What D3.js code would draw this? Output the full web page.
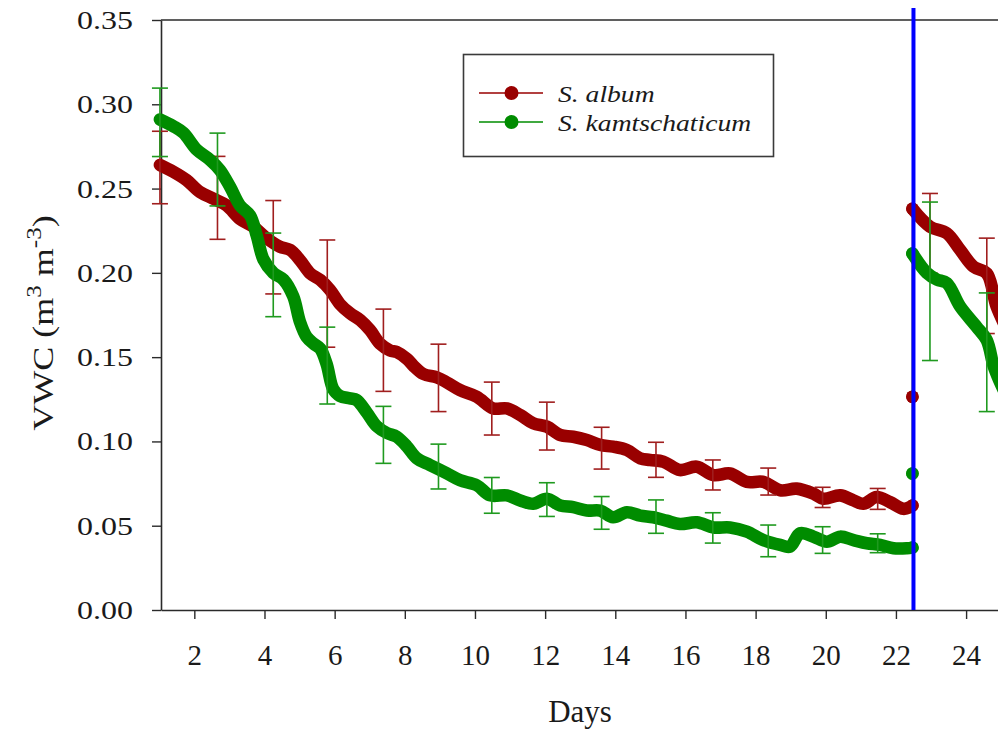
<!DOCTYPE html>
<html>
<head>
<meta charset="utf-8">
<script src="https://cdn.jsdelivr.net/npm/d3@7"></script>
<style>
  html, body { margin: 0; padding: 0; background: #fff; }
  svg { display: block; font-family: "Liberation Serif", "Times New Roman", serif; }
</style>
</head>
<body>
<svg id="chart" width="998" height="731"></svg>
<script>
// Volumetric water content traces (day, VWC). Repeated days mark the re-watering jump.
const albumDays = [1.02, 1.40, 1.78, 2.16, 2.54, 2.92, 3.30, 3.68, 4.06, 4.44, 4.73, 5.01, 5.30, 5.59, 5.87, 6.15, 6.44, 6.73, 7.01, 7.29, 7.58, 7.77, 8.06, 8.24, 8.53, 8.91, 9.20, 9.57, 10.05, 10.52, 10.91, 11.29, 11.66, 12.05, 12.43, 12.80, 13.19, 13.57, 13.94, 14.33, 14.71, 14.99, 15.37, 15.84, 16.32, 16.80, 17.27, 17.75, 18.22, 18.70, 19.17, 19.65, 19.93, 20.41, 20.79, 21.07, 21.45, 21.83, 22.21, 22.40, 22.47, 22.47, 22.47, 22.97, 23.45, 23.83, 24.21, 24.59, 24.87, 25.20];
const albumVWC = [0.264, 0.260, 0.255, 0.248, 0.244, 0.240, 0.232, 0.2274, 0.2205, 0.2155, 0.2136, 0.2076, 0.1997, 0.1958, 0.1898, 0.1815, 0.176, 0.172, 0.166, 0.158, 0.154, 0.153, 0.149, 0.145, 0.140, 0.138, 0.135, 0.1305, 0.1265, 0.1196, 0.1196, 0.1157, 0.1108, 0.1088, 0.1038, 0.1028, 0.1008, 0.0979, 0.0969, 0.0949, 0.090, 0.089, 0.088, 0.083, 0.085, 0.080, 0.081, 0.076, 0.076, 0.071, 0.072, 0.069, 0.066, 0.068, 0.065, 0.063, 0.067, 0.064, 0.060, 0.061, 0.062, 0.1265, 0.238, 0.2274, 0.2235, 0.2136, 0.2037, 0.1997, 0.180, 0.165];

const kamtDays = [1.02, 1.40, 1.69, 2.07, 2.45, 2.73, 3.02, 3.30, 3.59, 3.78, 3.97, 4.25, 4.54, 4.82, 5.01, 5.20, 5.40, 5.59, 5.77, 5.96, 6.15, 6.44, 6.63, 6.92, 7.20, 7.49, 7.77, 8.06, 8.34, 8.72, 9.20, 9.57, 10.05, 10.43, 10.91, 11.29, 11.66, 12.05, 12.43, 12.80, 13.19, 13.57, 13.94, 14.33, 14.71, 15.08, 15.46, 15.84, 16.32, 16.80, 17.27, 17.75, 18.22, 18.70, 18.98, 19.27, 19.65, 20.03, 20.41, 20.79, 21.17, 21.55, 21.93, 22.31, 22.47, 22.47, 22.47, 22.88, 23.17, 23.45, 23.83, 24.30, 24.59, 24.78, 24.95, 25.20];
const kamtVWC = [0.291, 0.287, 0.283, 0.273, 0.267, 0.261, 0.251, 0.240, 0.234, 0.222, 0.208, 0.200, 0.196, 0.186, 0.171, 0.162, 0.158, 0.155, 0.146, 0.131, 0.127, 0.1255, 0.1245, 0.117, 0.109, 0.105, 0.1028, 0.097, 0.090, 0.086, 0.081, 0.077, 0.074, 0.068, 0.068, 0.065, 0.063, 0.066, 0.062, 0.061, 0.059, 0.059, 0.055, 0.058, 0.056, 0.055, 0.053, 0.051, 0.052, 0.049, 0.049, 0.0465, 0.0415, 0.0386, 0.0376, 0.0455, 0.0435, 0.0405, 0.0435, 0.0415, 0.0396, 0.0386, 0.0366, 0.0366, 0.037, 0.081, 0.2115, 0.200, 0.196, 0.194, 0.180, 0.168, 0.160, 0.145, 0.136, 0.125];

// Mean ± error at the sampled days
const errDays  = [1.02, 2.66, 4.25, 5.79, 7.39, 8.96, 10.48, 12.05, 13.61, 15.16, 16.78, 18.36, 19.91, 21.48, 22.97, 24.59];
const albumMean = [0.2625, 0.2445, 0.2152, 0.1877, 0.1541, 0.1377, 0.1195, 0.1091, 0.0960, 0.0891, 0.0801, 0.0762, 0.0668, 0.0659, 0.2234, 0.1923];
const albumErr  = [0.0215, 0.0246, 0.0277, 0.0318, 0.0244, 0.0200, 0.0157, 0.0142, 0.0124, 0.0104, 0.0089, 0.0080, 0.0060, 0.0062, 0.0237, 0.0283];
const kamtMean  = [0.2893, 0.2613, 0.1988, 0.1450, 0.1039, 0.0851, 0.0680, 0.0655, 0.0576, 0.0554, 0.0487, 0.0410, 0.0415, 0.0396, 0.1950, 0.1529];
const kamtErr   = [0.0203, 0.0216, 0.0248, 0.0228, 0.0169, 0.0133, 0.0106, 0.0100, 0.0097, 0.0099, 0.0090, 0.0094, 0.0079, 0.0056, 0.0470, 0.0352];

const yTicks = [0.00, 0.05, 0.10, 0.15, 0.20, 0.25, 0.30, 0.35];
const xTicks = [2, 4, 6, 8, 10, 12, 14, 16, 18, 20, 22, 24];
const rewaterDay = 22.5;
const seriesNames = ["S. album", "S. kamtschaticum"];
const seriesColors = ["#990000", "#008c00"];
const barColors = ["#a01e1e", "#1f9a1f"];

const svg = d3.select("#chart");
const x = d3.scaleLinear().domain([1.05, 25.3]).range([161, 1011.7]);
const y = d3.scaleLinear().domain([0, 0.35]).range([610, 20]);
const axisColor = "#2a2a2a";

// Frame top line
svg.append("line")
  .attr("x1", x.range()[0]).attr("x2", 998)
  .attr("y1", y(0.35)).attr("y2", y(0.35))
  .attr("stroke", axisColor).attr("stroke-width", 1.6);

// Y axis
const yScaleX = 1.28;
const gy = svg.append("g").attr("transform", `translate(${x.range()[0]},0)`)
  .call(d3.axisLeft(y).tickValues(yTicks).tickFormat(d3.format(".2f")).tickSize(9).tickSizeOuter(0));
gy.select(".domain").attr("stroke", axisColor).attr("stroke-width", 1.6);
gy.selectAll(".tick line").attr("stroke", axisColor).attr("stroke-width", 1.4);
gy.selectAll(".tick text")
  .attr("font-family", "Liberation Serif, Times New Roman, serif")
  .attr("font-size", 25).attr("fill", "#1a1a1a")
  .attr("x", -28 / yScaleX).attr("dy", "0.34em")
  .attr("transform", `scale(${yScaleX},1)`);

// X axis
const gx = svg.append("g").attr("transform", `translate(0,${y(0)})`)
  .call(d3.axisBottom(x).tickValues(xTicks).tickSize(9).tickPadding(25).tickSizeOuter(0));
gx.select(".domain").attr("stroke", axisColor).attr("stroke-width", 1.6);
gx.selectAll(".tick line").attr("stroke", axisColor).attr("stroke-width", 1.4);
gx.selectAll(".tick text")
  .attr("font-family", "Liberation Serif, Times New Roman, serif")
  .attr("font-size", 29).attr("fill", "#1a1a1a");

// Axis titles
svg.append("text")
  .attr("x", 580).attr("y", 722)
  .attr("text-anchor", "middle").attr("font-size", 31).attr("fill", "#1a1a1a")
  .text("Days");

const yTitle = svg.append("text")
  .attr("transform", "translate(53,323) rotate(-90) scale(1.2,1)")
  .attr("text-anchor", "middle").attr("font-size", 30).attr("fill", "#1a1a1a");
yTitle.append("tspan").text("VWC (m");
yTitle.append("tspan").attr("font-size", 21).attr("dy", -12).text("3");
yTitle.append("tspan").attr("dy", 12).text(" m");
yTitle.append("tspan").attr("font-size", 21).attr("dy", -12).text("-3");
yTitle.append("tspan").attr("dy", 12).text(")");

// Trace: dense logger markers drawn as a thick band; vertical jumps as a thin line with dots
const markerR = 6.3;
const band = d3.line().x(d => x(d[0])).y(d => y(d[1])).curve(d3.curveCatmullRom.alpha(0.5));

function drawTrace(days, vals, color) {
  const g = svg.append("g");
  const pts = days.map((d, i) => [d, vals[i]]);
  const runs = [];
  const jumps = [];
  let cur = [pts[0]];
  for (let i = 1; i < pts.length; i++) {
    if (pts[i][0] > pts[i - 1][0]) {
      cur.push(pts[i]);
    } else {
      if (cur.length > 1) runs.push(cur);
      jumps.push([pts[i - 1], pts[i]]);
      cur = [pts[i]];
    }
  }
  if (cur.length > 1) runs.push(cur);

  jumps.forEach(j => {
    g.append("line")
      .attr("x1", x(j[0][0])).attr("y1", y(j[0][1]))
      .attr("x2", x(j[1][0])).attr("y2", y(j[1][1]))
      .attr("stroke", color).attr("stroke-width", 1.3);
  });
  g.selectAll("path.run").data(runs).join("path")
    .attr("class", "run")
    .attr("d", band)
    .attr("fill", "none").attr("stroke", color)
    .attr("stroke-width", markerR * 2)
    .attr("stroke-linecap", "round").attr("stroke-linejoin", "round");
  const jumpPts = jumps.flat();
  g.selectAll("circle").data(jumpPts).join("circle")
    .attr("cx", d => x(d[0])).attr("cy", d => y(d[1])).attr("r", markerR)
    .attr("fill", color);
}

function drawErrorBars(means, errs, color) {
  const g = svg.append("g").attr("stroke", color).attr("stroke-width", 1.6).attr("fill", "none");
  const cap = 8;
  errDays.forEach((d, i) => {
    const cx = x(d), y1 = y(means[i] + errs[i]), y2 = y(means[i] - errs[i]);
    g.append("line").attr("x1", cx).attr("x2", cx).attr("y1", y1).attr("y2", y2);
    g.append("line").attr("x1", cx - cap).attr("x2", cx + cap).attr("y1", y1).attr("y2", y1);
    g.append("line").attr("x1", cx - cap).attr("x2", cx + cap).attr("y1", y2).attr("y2", y2);
  });
}

drawTrace(albumDays, albumVWC, seriesColors[0]);
drawErrorBars(albumMean, albumErr, barColors[0]);
drawTrace(kamtDays, kamtVWC, seriesColors[1]);
drawErrorBars(kamtMean, kamtErr, barColors[1]);

// Re-watering marker
svg.append("line")
  .attr("x1", x(rewaterDay)).attr("x2", x(rewaterDay))
  .attr("y1", 8).attr("y2", y(0))
  .attr("stroke", "#0000ff").attr("stroke-width", 4);

// Legend
const leg = svg.append("g");
leg.append("rect")
  .attr("x", 463.5).attr("y", 54.5).attr("width", 310).attr("height", 102)
  .attr("fill", "#fff").attr("stroke", "#3a3a3a").attr("stroke-width", 1.6);
const legRows = [93, 122];
seriesNames.forEach((name, i) => {
  const ry = legRows[i];
  leg.append("line").attr("x1", 479).attr("x2", 543).attr("y1", ry).attr("y2", ry)
    .attr("stroke", seriesColors[i]).attr("stroke-width", 1.6);
  leg.append("circle").attr("cx", 511.5).attr("cy", ry).attr("r", 7).attr("fill", seriesColors[i]);
  leg.append("text")
    .attr("transform", `translate(558,${ry + 8.5}) scale(1.15,1)`)
    .attr("font-size", 24).attr("font-style", "italic").attr("fill", "#1a1a1a")
    .text(name);
});
</script>
</body>
</html>
